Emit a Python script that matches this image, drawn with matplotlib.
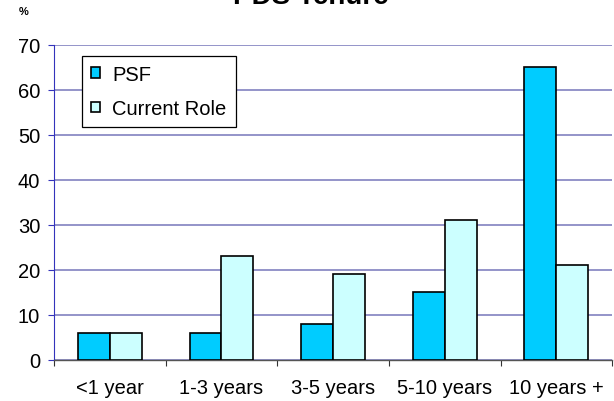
import numpy as np
import matplotlib.pyplot as plt

plt.rcParams['font.family'] = ['Liberation Sans', 'DejaVu Sans']

categories = ["<1 year", "1-3 years", "3-5 years", "5-10 years", "10 years +"]
psf = [6, 6, 8, 15, 65]
current_role = [6, 23, 19, 31, 21]
yticks = [0, 10, 20, 30, 40, 50, 60, 70]

fig = plt.figure(figsize=(6.14, 4.02), dpi=100)
ax = fig.add_axes([0.088, 0.102, 0.909, 0.784])

x = np.arange(len(categories))
w = 0.286
ax.bar(x - w / 2, psf, w, color="#00CCFF", edgecolor="black",
       linewidth=1.2, label="PSF", zorder=3)
ax.bar(x + w / 2, current_role, w, color="#CCFFFF", edgecolor="black",
       linewidth=1.2, label="Current Role", zorder=3)

ax.set_xlim(-0.5, len(categories) - 0.5)
ax.set_ylim(0, 70)
ax.set_yticks(yticks)
ax.yaxis.grid(True, color="#7777bb", linewidth=1.1, zorder=0)

# category labels at the centres, tick marks between groups
ax.set_xticks(x)
ax.set_xticklabels(categories, fontsize=14.5)
ax.tick_params(axis="x", length=0, pad=13)
ax.set_xticks(np.arange(-0.5, len(categories)), minor=True)
ax.tick_params(axis="x", which="minor", length=4, color="#333333", width=0.8)
ax.tick_params(axis="y", labelsize=14.5, length=4, color="#3333bb",
               width=0.8, pad=6)

for s in ["top", "right"]:
    ax.spines[s].set_visible(False)
ax.spines["left"].set_color("#3333bb")
ax.spines["left"].set_linewidth(0.8)
ax.spines["bottom"].set_color("#555555")
ax.spines["bottom"].set_linewidth(1.0)

leg = ax.legend(loc="upper left", bbox_to_anchor=(82 / 614, 1 - 57 / 402),
                bbox_transform=fig.transFigure, fontsize=14.5, frameon=True,
                fancybox=False, edgecolor="black", framealpha=1,
                handlelength=0.45, handleheight=0.45, handletextpad=0.6,
                labelspacing=0.75, borderpad=0.45, borderaxespad=0)
leg.get_frame().set_linewidth(0.9)

fig.text(0.507, 1 - 4 / 402, "PDS Tenure", ha="center", va="baseline",
         fontsize=20, fontweight="bold")
fig.text(24 / 614, 1 - 12 / 402, "%", ha="center", va="center",
         fontsize=8, fontweight="bold")

fig.savefig("out.png", dpi=100)
